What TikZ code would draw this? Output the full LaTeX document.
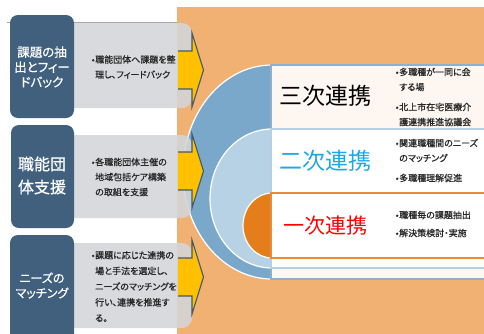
\documentclass[tikz,border=0pt]{standalone}
\usepackage{fontspec}
\newfontfamily\jp[RawFeature=+palt]{Noto Sans CJK JP}
\newfontfamily\jpm[RawFeature=+palt,FakeBold=0.7]{Noto Sans CJK JP}
\definecolor{bgorange}{HTML}{F1B172}
\definecolor{outerblue}{HTML}{7AA8CA}
\definecolor{lightblue}{HTML}{B7D2E4}
\definecolor{innerorange}{HTML}{E47E1A}
\definecolor{darkbox}{HTML}{40607D}
\definecolor{graybox}{HTML}{D3D6DA}
\definecolor{yarrow}{HTML}{FFC000}
\definecolor{arrowline}{HTML}{44596B}
\definecolor{paleband}{HTML}{FDF6F1}
\definecolor{bandblue}{HTML}{8DB0CE}
\definecolor{bandlight}{HTML}{B5CFE3}
\definecolor{bandorange}{HTML}{E98A3C}
\definecolor{cyantext}{HTML}{1EA8E6}
\definecolor{smalltext}{HTML}{262626}
\newcommand\bul{\makebox[0pt][r]{•\hspace{0.5pt}}}
\tikzset{
  darkboxstyle/.style={fill=darkbox, rounded corners=8pt},
  grayboxstyle/.style={fill=graybox, fill opacity=0.88, rounded corners=10pt},
  arrowfill/.style={fill=yarrow},
  arrowstroke/.style={draw=arrowline, line width=1.1pt, line join=miter},
  boxtitle/.style={text=white, align=center, inner sep=0pt},
  bullettext/.style={text=smalltext, align=left, anchor=west, inner sep=0pt, font=\jpm\fontsize{9}{15}\selectfont},
  bigtitle/.style={anchor=west, inner sep=0pt},
  ringedge/.style={draw=white, line width=1.2pt}
}
\newcommand\yarrowshape[1]{%
  \fill[arrowfill] (178,#1-19) -- (192,#1-19) -- (192,#1-37) -- (203.5,#1) -- (192,#1+37) -- (192,#1+19) -- (178,#1+19) -- cycle;
  \draw[arrowstroke] (178,#1-19) -- (192,#1-19) -- (192,#1-37) -- (203.5,#1) -- (192,#1+37) -- (192,#1+19) -- (178,#1+19);
}
\begin{document}
\begin{tikzpicture}[x=1pt,y=-1pt]
\useasboundingbox (0,0) rectangle (484,333);
\clip (0,0) rectangle (484,333);
\fill[white] (0,0) rectangle (484,333);
\draw[draw=black!35, line width=0.6pt] (7,22.7) -- (178,22.7);
\fill[bgorange] (177,7) rectangle (490,340);

% concentric half ellipses
\filldraw[fill=outerblue, ringedge] (272,172) ellipse [x radius=89, y radius=107];
\filldraw[fill=lightblue, ringedge] (272,198.5) ellipse [x radius=62, y radius=69.5];
\filldraw[fill=innerorange, ringedge] (272,225.5) ellipse [x radius=29, y radius=32.5];

% bands
\filldraw[fill=paleband, draw=bandblue, line width=1.5pt] (271,65) rectangle (492,279);
\filldraw[fill=white, draw=bandlight, line width=1.5pt] (271,129) rectangle (492,268);
\filldraw[fill=white, draw=bandorange, line width=1.5pt] (271,193) rectangle (492,258);

% gray boxes
\fill[grayboxstyle] (66,23) rectangle (192,108);
\fill[grayboxstyle] (66,135) rectangle (192,218);
\fill[grayboxstyle] (66,243) rectangle (192,328);

% yellow arrows
\yarrowshape{70}
\yarrowshape{171}
\yarrowshape{277}

% dark boxes
\fill[darkboxstyle] (10,15) rectangle (74,118);
\fill[darkboxstyle] (11,125) rectangle (74,228);
\fill[darkboxstyle] (10,235) rectangle (74,345);

% dark box titles
\node[boxtitle, font=\jpm\fontsize{12.5}{15}\selectfont] (t1) at (42,67) {課題の抽\\出とフィー\\ドバック};
\node[boxtitle, font=\jpm\fontsize{16}{23}\selectfont] (t2) at (42,175.5) {職能団\\体支援};
\node[boxtitle, font=\jpm\fontsize{12}{15}\selectfont] (t3) at (42,285.5) {ニーズの\\マッチング};

% gray box texts
\node[bullettext] (g1) at (95,67) {\bul 職能団体へ課題を整\\理し、フィードバック};
\node[bullettext] (g2) at (95,177) {\bul 各職能団体主催の\\地域包括ケア構築\\の取組を支援};
\node[bullettext, font=\jpm\fontsize{9}{15.7}\selectfont] (g3) at (95,286.5) {\bul 課題に応じた連携の\\場と手法を選定し、\\ニーズのマッチングを\\行い、連携を推進す\\る。};

% band titles
\node[bigtitle, font=\jp\fontsize{23}{23}\selectfont, text=black] (r3) at (279,96) {三次連携};
\node[bigtitle, font=\jp\fontsize{23}{23}\selectfont, text=cyantext] (r2) at (279,161) {二次連携};
\node[bigtitle, font=\jp\fontsize{21}{21}\selectfont, text=red] (r1) at (283,226) {一次連携};

% band bullets
\node[bullettext] (s3a) at (399,79.5) {\bul 多職種が一同に会\\する場};
\node[bullettext] (s3b) at (399,114.5) {\bul 北上市在宅医療介\\護連携推進協議会};
\node[bullettext] (s2a) at (399,150.5) {\bul 関連職種間のニーズ\\のマッチング};
\node[bullettext] (s2b) at (399,178) {\bul 多職種理解促進};
\node[bullettext] (s1a) at (399,215) {\bul 職種毎の課題抽出};
\node[bullettext] (s1b) at (399,233) {\bul 解決策検討・実施};
\end{tikzpicture}
\end{document}
